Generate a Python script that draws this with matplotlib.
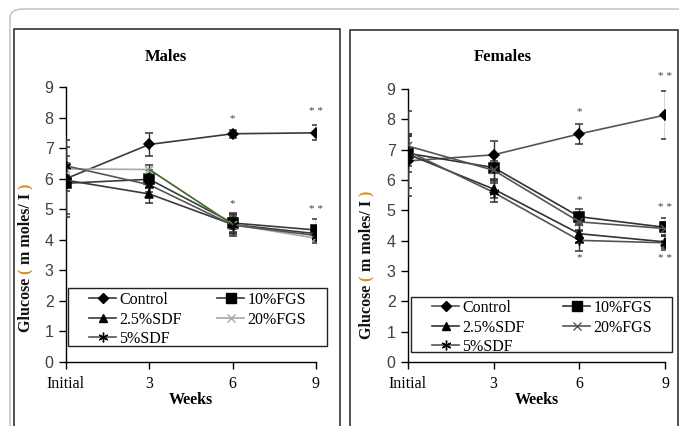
import matplotlib.pyplot as plt
from matplotlib.patches import Rectangle, FancyBboxPatch
from matplotlib.lines import Line2D

weeks = [0, 3, 6, 9]
week_labels = ['Initial', '3', '6', '9']
groups = ['Control', '10%FGS', '2.5%SDF', '20%FGS', '5%SDF']

males = {
    'Control': [6.0, 7.12, 7.47, 7.5],
    '10%FGS': [5.85, 5.98, 4.55, 4.32],
    '2.5%SDF': [5.95, 5.5, 4.5, 4.2],
    '20%FGS': [6.32, 6.3, 4.5, 4.05],
    '5%SDF': [6.42, 5.8, 4.48, 4.14],
}
males_err = {
    'Control': [1.25, 0.38, 0.13, 0.25],
    '10%FGS': [0.25, 0.3, 0.33, 0.35],
    '2.5%SDF': [1.1, 0.3, 0.3, 0.2],
    '20%FGS': [0.2, 0.15, 0.25, 0.15],
    '5%SDF': [0.33, 0.25, 0.35, 0.15],
}
females = {
    'Control': [6.63, 6.83, 7.52, 8.14],
    '10%FGS': [6.88, 6.41, 4.79, 4.44],
    '2.5%SDF': [6.85, 5.7, 4.23, 3.96],
    '20%FGS': [7.12, 6.32, 4.62, 4.4],
    '5%SDF': [6.95, 5.59, 4.01, 3.93],
}
females_err = {
    'Control': [0.9, 0.44, 0.34, 0.8],
    '10%FGS': [1.4, 0.45, 0.25, 0.3],
    '2.5%SDF': [0.6, 0.3, 0.3, 0.2],
    '20%FGS': [0.4, 0.3, 0.3, 0.2],
    '5%SDF': [0.5, 0.3, 0.35, 0.24],
}
# significance marks: (week, y, text)
males_sig = [(6, 7.95, '*'), (9, 8.2, '* *'), (6, 5.2, '*'), (9, 5.0, '* *')]
females_sig = [(6, 8.25, '*'), (9, 9.4, '* *'), (6, 5.37, '*'), (9, 5.1, '* *'),
               (6, 3.45, '*'), (9, 3.42, '* *')]

markers = {'Control': 'D', '10%FGS': 's', '2.5%SDF': '^', '20%FGS': 'x', '5%SDF': (6, 2, 0)}
msizes = {'Control': 5, '10%FGS': 7, '2.5%SDF': 6, '20%FGS': 6, '5%SDF': 7}

serif = 'Liberation Serif'
sans = 'Liberation Sans'

W, H = 679, 426
fig = plt.figure(figsize=(W / 100, H / 100), dpi=100)


def fx(px):
    return px / W


def fy(py):
    return 1 - py / H


# outer frame and panel boxes
fig.patches.append(FancyBboxPatch((fx(10), fy(440)), fx(700), fy(9) - fy(440),
                                  boxstyle='round,pad=0,rounding_size=0.02',
                                  transform=fig.transFigure, fill=False,
                                  edgecolor='#c8c8c8', linewidth=1.2))
for x0, x1, y0 in [(14, 340, 29), (350, 678, 30)]:
    fig.patches.append(Rectangle((fx(x0), fy(440)), fx(x1 - x0), fy(y0) - fy(440),
                                 transform=fig.transFigure, fill=False,
                                 edgecolor='#222222', linewidth=1.1))


def draw_panel(ax, data, err, sig, line_cols, title, title_x, ylab_x, ylab_y,
               leg_box, leg_xy, colsp):
    for g in groups:
        col = line_cols[g]
        mcol = '#000000' if g != '20%FGS' else col
        ax.errorbar(weeks, data[g], yerr=err[g], color=col, ecolor='#333333',
                    elinewidth=1, capsize=3, capthick=1, lw=1.2,
                    marker=markers[g], ms=msizes[g], mfc=mcol, mec=mcol, mew=1.1,
                    zorder=3)
    for w, y, s in sig:
        ax.text(w, y, s, ha='center', va='center', fontsize=8, color='#444444',
                family=serif)
    ax.set_xlim(0, 9)
    ax.set_ylim(0, 9)
    ax.set_xticks(weeks)
    ax.set_xticklabels(week_labels, family=serif, fontsize=11.5)
    ax.set_yticks(range(10))
    ax.set_yticklabels([str(i) for i in range(10)], family=sans, fontsize=11.5,
                       color='#404040')
    ax.tick_params(direction='out', length=5, width=1, pad=4)
    ax.tick_params(axis='x', pad=5)
    for s in ['top', 'right']:
        ax.spines[s].set_visible(False)
    for s in ['left', 'bottom']:
        ax.spines[s].set_linewidth(1)
    ax.patch.set_alpha(0)
    ax.set_xlabel('Weeks', family=serif, fontweight='bold', fontsize=11.5, labelpad=0)
    fig.text(title_x, fy(57), title, ha='center', va='center', family=serif,
             fontweight='bold', fontsize=12)
    # y label, with orange brackets
    parts = [('Glucose ', '#111111'), ('(', '#d98c1a'), (' m moles/ I ', '#111111'),
             (')', '#d98c1a')]
    fig.canvas.draw()
    rend = fig.canvas.get_renderer()
    widths = []
    for t, c in parts:
        tt = fig.text(0, 0, t.replace(' ', '\u00a0'), family=serif, fontweight='bold',
                      fontsize=11.5)
        widths.append(tt.get_window_extent(rend).width)
        tt.remove()
    total = sum(widths)
    ypos = (H - ylab_y) - total / 2
    for (t, c), h in zip(parts, widths):
        fig.text(fx(ylab_x), ypos / H, t.replace(' ', '\u00a0'), rotation=90,
                 family=serif, fontweight='bold', fontsize=11.5, color=c,
                 ha='left', va='center', rotation_mode='anchor')
        ypos += h
    # legend: frame drawn separately
    bx0, by0, bx1, by1 = leg_box
    fig.patches.append(Rectangle((fx(bx0), fy(by1)), fx(bx1 - bx0), fy(by0) - fy(by1),
                                 transform=fig.transFigure, fill=False,
                                 edgecolor='#222222', linewidth=1, zorder=5))
    order = ['Control', '2.5%SDF', '5%SDF', '10%FGS', '20%FGS']
    handles = []
    for g in order:
        col = line_cols[g]
        mcol = '#000000' if g != '20%FGS' else col
        handles.append(Line2D([], [], color=col, lw=1.2, marker=markers[g],
                              ms=msizes[g], mfc=mcol, mec=mcol))
    fig.legend(handles, order, loc='upper left', bbox_to_anchor=leg_xy,
               bbox_transform=fig.transFigure, ncol=2, frameon=False,
               borderaxespad=0, borderpad=0, prop={'family': serif, 'size': 11.5},
               handlelength=1.7, handletextpad=0.2, columnspacing=colsp,
               labelspacing=0.22)


ax1 = fig.add_axes([fx(66), fy(362), fx(316 - 66), fy(87) - fy(362)])
ax2 = fig.add_axes([fx(408), fy(362), fx(665 - 408), fy(89) - fy(362)])

males_cols = {'Control': '#3a3a3a', '10%FGS': '#3a3a3a', '2.5%SDF': '#3a3a3a',
              '20%FGS': '#a8a8a8', '5%SDF': '#555555'}
females_cols = {g: '#555555' for g in groups}
females_cols['10%FGS'] = '#333333'
females_cols['2.5%SDF'] = '#333333'

draw_panel(ax1, males, males_err, males_sig, males_cols, 'Males', fx(166),
           26, 258, (68, 288, 327, 346), (fx(89), fy(292)), 2.2)
# odd green segment on the males 20%FGS line
ax1.plot(weeks[1:3], males['20%FGS'][1:3], color='#3d6b2d', lw=1.1, zorder=3.5)

draw_panel(ax2, females, females_err, females_sig, females_cols, 'Females', fx(503),
           367, 265, (411, 297, 672, 352), (fx(432), fy(300)), 2.4)

fig.savefig('out.png', dpi=100)
